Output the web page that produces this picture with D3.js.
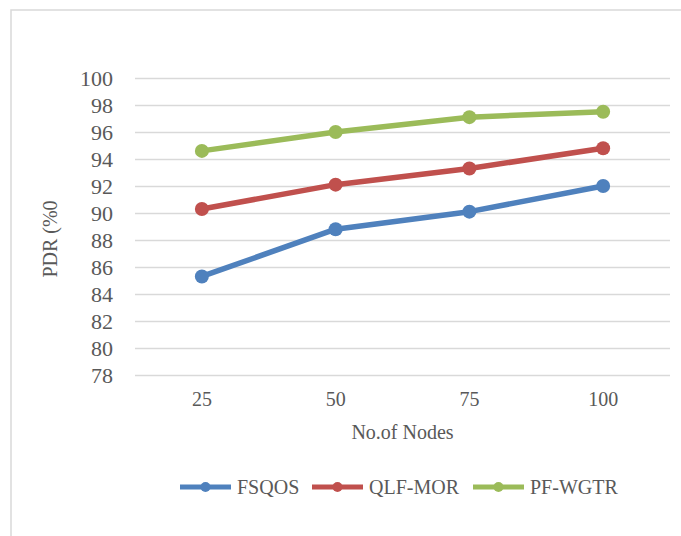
<!DOCTYPE html>
<html>
<head>
<meta charset="utf-8">
<script src="https://cdn.jsdelivr.net/npm/d3@7"></script>
<style>
  body { margin: 0; background: #fff; }
</style>
</head>
<body>
<div id="chart"></div>
<script>
// chart values
var nodes = ["25", "50", "75", "100"];
var seriesNames = ["FSQOS", "QLF-MOR", "PF-WGTR"];
var fsqos = [85.3, 88.8, 90.1, 92.0];
var qlfMor = [90.3, 92.1, 93.3, 94.8];
var pfWgtr = [94.6, 96.0, 97.1, 97.5];
var yTicks = [78, 80, 82, 84, 86, 88, 90, 92, 94, 96, 98, 100];
var colors = ["#4F81BD", "#C0504D", "#9BBB59"];

var FONT = "Liberation Serif";

var series = [fsqos, qlfMor, pfWgtr].map(function(v, i) {
    return {name: seriesNames[i], values: v, color: colors[i]};
});

var W = 681, H = 536;
var margin = {top: 78, right: 11, bottom: 161, left: 135},
    width = W - margin.left - margin.right,
    height = H - margin.top - margin.bottom;

var root = d3.select("#chart")
    .append("svg")
    .attr("width", W)
    .attr("height", H);

// chart area border (right/bottom fall outside the picture)
root.append("rect")
    .attr("x", 11).attr("y", 10)
    .attr("width", W + 20).attr("height", H + 20)
    .attr("fill", "none")
    .attr("stroke", "#d9d9d9")
    .attr("stroke-width", 1.5);

var svg = root.append("g")
    .attr("transform", "translate(" + margin.left + "," + margin.top + ")");

var x = d3.scaleBand()
    .domain(nodes)
    .range([0, width]);

var y = d3.scaleLinear()
    .domain([78, 100])
    .range([height, 0]);

// gridlines
svg.append("g")
    .call(d3.axisLeft(y).tickValues(yTicks).tickSize(-width).tickFormat(""))
    .call(function(g) {
        g.select(".domain").remove();
        g.selectAll("line").attr("stroke", "#d9d9d9").attr("stroke-width", 1.5);
    });

// y tick labels
svg.append("g")
    .call(d3.axisLeft(y).tickValues(yTicks).tickSize(0).tickPadding(22))
    .call(function(g) {
        g.select(".domain").remove();
        g.selectAll("text")
            .attr("fill", "#595959")
            .attr("font-family", FONT)
            .attr("font-size", 22)
            .attr("dy", "0.34em");
    })
    .attr("font-family", FONT);

// x tick labels
svg.append("g")
    .attr("transform", "translate(0," + height + ")")
    .call(d3.axisBottom(x).tickSize(0).tickPadding(17))
    .call(function(g) {
        g.select(".domain").remove();
        g.selectAll("text")
            .attr("fill", "#595959")
            .attr("font-family", FONT)
            .attr("font-size", 20);
    })
    .attr("font-family", FONT);

// axis titles
svg.append("text")
    .attr("x", width / 2)
    .attr("y", height + 64)
    .attr("text-anchor", "middle")
    .attr("fill", "#595959")
    .attr("font-family", FONT)
    .attr("font-size", 20)
    .text("No.of Nodes");

svg.append("text")
    .attr("transform", "rotate(-90)")
    .attr("x", -(239 - margin.top))
    .attr("y", 57 - margin.left)
    .attr("text-anchor", "middle")
    .attr("fill", "#595959")
    .attr("font-family", FONT)
    .attr("font-size", 20)
    .text("PDR (%0");

// lines and markers
var line = d3.line()
    .x(function(d, i) { return x(nodes[i]) + x.bandwidth() / 2; })
    .y(function(d) { return y(d); });

series.forEach(function(s) {
    svg.append("path")
        .datum(s.values)
        .attr("d", line)
        .attr("fill", "none")
        .attr("stroke", s.color)
        .attr("stroke-width", 5.5)
        .attr("stroke-linejoin", "round");
    svg.selectAll(null)
        .data(s.values)
        .enter()
        .append("circle")
        .attr("cx", function(d, i) { return x(nodes[i]) + x.bandwidth() / 2; })
        .attr("cy", function(d) { return y(d); })
        .attr("r", 7)
        .attr("fill", s.color);
});

// legend
var legendX = [180, 312, 473];
var legend = root.append("g").attr("transform", "translate(0,487)");
series.forEach(function(s, i) {
    var g = legend.append("g").attr("transform", "translate(" + legendX[i] + ",0)");
    g.append("line")
        .attr("x1", 0).attr("x2", 51)
        .attr("stroke", s.color)
        .attr("stroke-width", 5);
    g.append("circle")
        .attr("cx", 25.5)
        .attr("r", 5)
        .attr("fill", s.color);
    g.append("text")
        .attr("x", 57)
        .attr("dy", "0.35em")
        .attr("fill", "#595959")
        .attr("font-family", FONT)
        .attr("font-size", 20)
        .text(s.name);
});
</script>
</body>
</html>
